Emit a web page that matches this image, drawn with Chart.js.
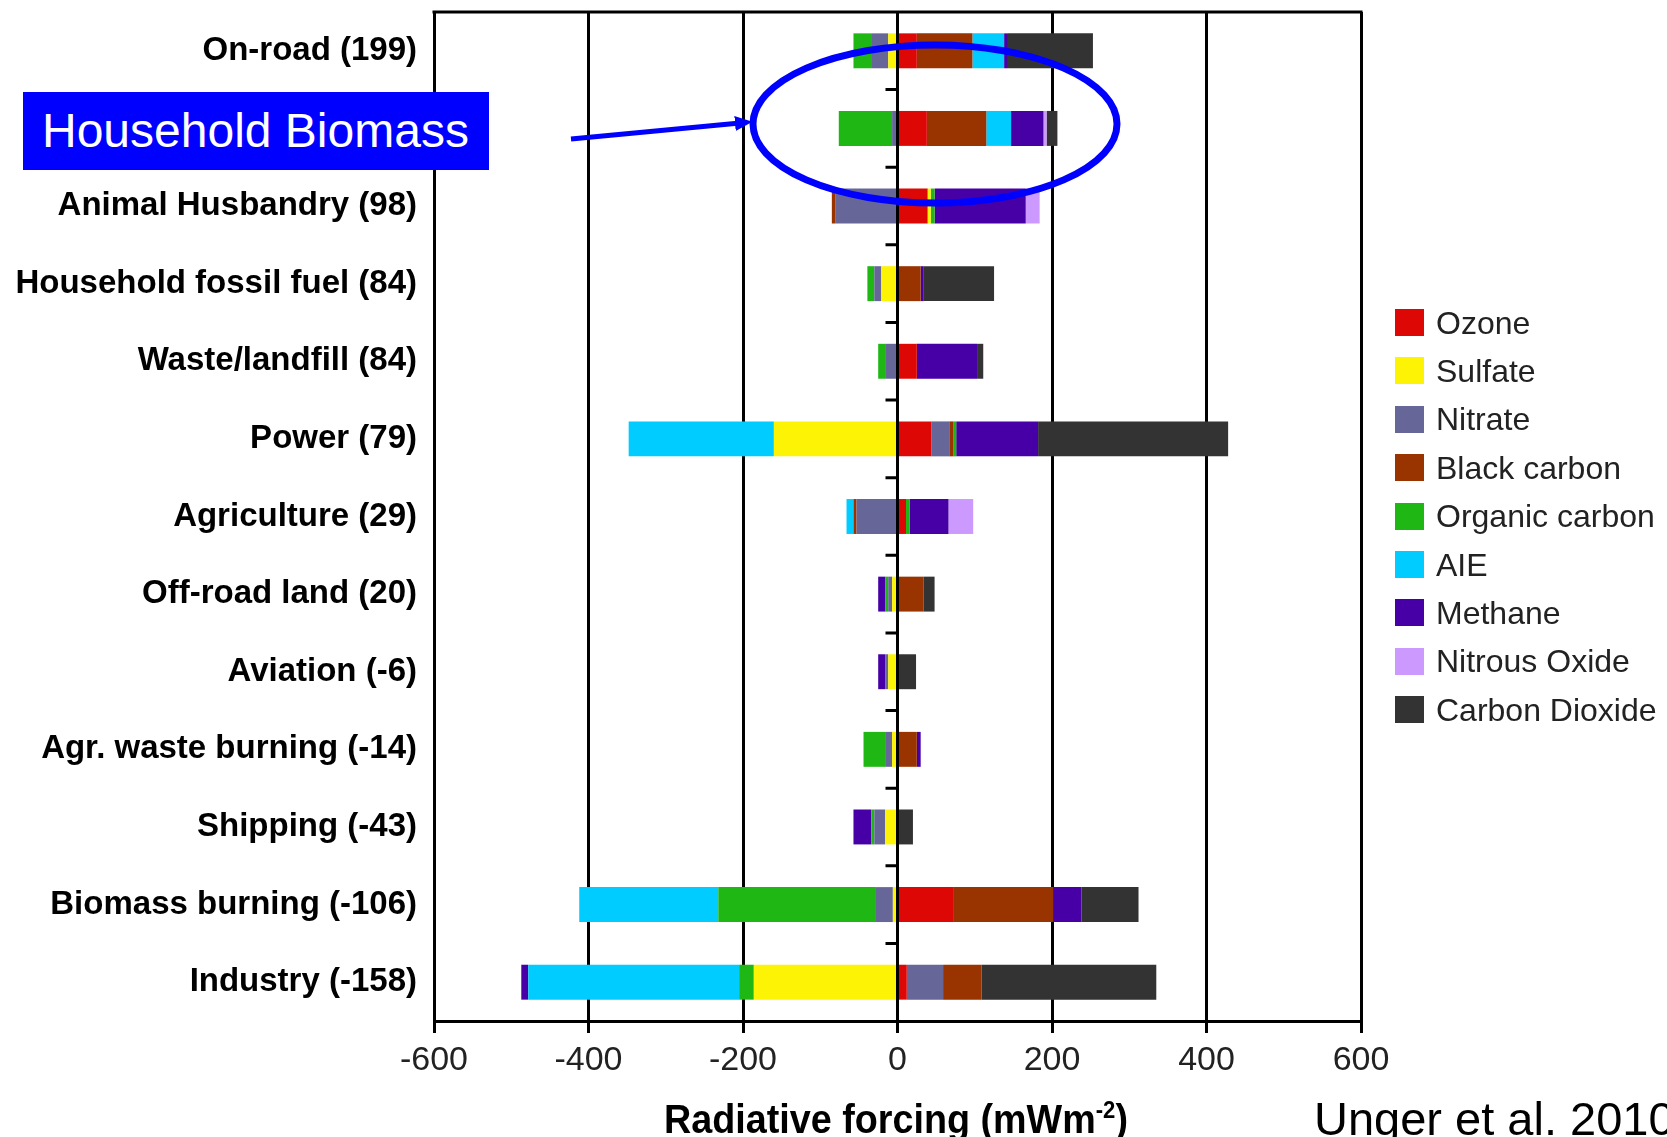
<!DOCTYPE html>
<html>
<head>
<meta charset="utf-8">
<title>Radiative forcing by sector</title>
<script src="https://cdn.jsdelivr.net/npm/chart.js@4.4.1/dist/chart.umd.min.js"></script>
<style>
  html, body { margin: 0; padding: 0; background: #fff; }
  #wrap { position: relative; width: 1667px; height: 1137px; overflow: hidden; font-family: "Liberation Sans", Arial, sans-serif; }
  #wrap canvas { position: absolute; left: 0; top: 0; }
  .txt { position: absolute; line-height: 1; white-space: nowrap; }
  #marks { position: absolute; left: 0; top: 0; pointer-events: none; }
  #biomass { position: absolute; left: 23px; top: 92px; width: 466px; height: 78px; background: #0000ff; }
  #biomass .txt { left: 19px; top: 15px; font-size: 48px; color: #fff; }
  #xtitle { left: 664px; top: 1099px; font-size: 41px; font-weight: bold; color: #000; transform: scaleX(0.92); transform-origin: left top; }
  #xtitle sup { font-size: 24px; vertical-align: 15px; line-height: 0; }
  #cite { left: 1314px; top: 1095px; font-size: 47px; color: #000; }
  #legend { position: absolute; left: 1395px; top: 309px; }
  .item { position: absolute; left: 0; display: flex; align-items: center; height: 27px; }
  .item i { display: block; width: 29px; height: 27px; }
  .item span { margin-left: 12px; font-size: 32px; line-height: 1; color: #222; white-space: nowrap; }
</style>
</head>
<body>
<div id="wrap">
  <canvas id="forcingChart" width="1667" height="1137"></canvas>
  <svg id="marks" width="1667" height="1137">
    <defs>
      <marker id="head" markerWidth="3.5" markerHeight="3" refX="1" refY="1.5" orient="auto" markerUnits="strokeWidth">
        <path d="M0,0 L3.5,1.5 L0,3 z" fill="#0000ff"></path>
      </marker>
    </defs>
    <line x1="571" y1="139" x2="740" y2="123" stroke="#0000ff" stroke-width="5" marker-end="url(#head)"></line>
    <ellipse cx="935" cy="124" rx="182" ry="79" fill="none" stroke="#0000ff" stroke-width="7"></ellipse>
  </svg>
  <div id="biomass"><div class="txt">Household Biomass</div></div>
  <div id="legend"></div>
  <div id="xtitle" class="txt">Radiative forcing (mWm<sup>-2</sup>)</div>
  <div id="cite" class="txt">Unger et al. 2010</div>
</div>
<script>
// sectors, top to bottom (net forcing in brackets)
const categories = [
  "On-road (199)", "Household Biomass", "Animal Husbandry (98)", "Household fossil fuel (84)",
  "Waste/landfill (84)", "Power (79)", "Agriculture (29)", "Off-road land (20)",
  "Aviation (-6)", "Agr. waste burning (-14)", "Shipping (-43)", "Biomass burning (-106)", "Industry (-158)"
];

// mWm-2 per species, same order as categories
const ozone         = [25, 38, 39, 0, 25, 44, 11, 0, 0, 0, 0, 73, 12];
const sulfate       = [-12, 0, 4, -21, 0, -160, 0, -7, -12, -7, -16, -6, -186];
const nitrate       = [-21, -7, -80, -9, -16, 23, -53, -5, -4, -9, -14, -23, 47];
const blackCarbon   = [72, 77, -5, 30, 0, 5, -4, 34, 0, 25, 0, 129, 50];
const organicCarbon = [-24, -69, 5, -9, -9, 4, 5, -4, 0, -28, -4, -203, -19];
const aie           = [41, 32, 0, 0, 0, -188, -9, 0, 0, 0, 0, -180, -273];
const methane       = [5, 42, 118, 4, 78, 106, 50, -9, -9, 5, -23, 36, -9];
const nitrousOxide  = [0, 4, 18, 0, 0, 0, 32, 0, 0, 0, 0, 0, 0];
const carbonDioxide = [110, 14, 0, 91, 8, 246, 0, 14, 24, 0, 20, 74, 226];

const seriesNames = ["Ozone", "Sulfate", "Nitrate", "Black carbon", "Organic carbon", "AIE", "Methane", "Nitrous Oxide", "Carbon Dioxide"];
const seriesValues = [ozone, sulfate, nitrate, blackCarbon, organicCarbon, aie, methane, nitrousOxide, carbonDioxide];
const seriesColors = ["#dd0806", "#fcf305", "#666699", "#993300", "#1fb714", "#00ccff", "#4600a5", "#cc99ff", "#333333"];

const xTicks = [-600, -400, -200, 0, 200, 400, 600];

Chart.defaults.font.family = "'Liberation Sans', Arial, sans-serif";

// legend built from the series lists
const legend = document.getElementById("legend");
seriesNames.forEach((name, i) => {
  const row = document.createElement("div");
  row.className = "item";
  row.style.top = (i * 48.4) + "px";
  row.innerHTML = '<i style="background:' + seriesColors[i] + '"></i><span>' + name + "</span>";
  legend.appendChild(row);
});

// frame top edge, zero line and the little ticks on it
const framePlugin = {
  id: "frame",
  afterDatasetsDraw(chart) {
    const { ctx, chartArea: a, scales: { x, y } } = chart;
    const x0 = x.getPixelForValue(0);
    ctx.save();
    ctx.strokeStyle = "#000";
    ctx.lineWidth = 3;
    ctx.beginPath();
    ctx.moveTo(x0, a.top);
    ctx.lineTo(x0, a.bottom);
    for (let i = 1; i < categories.length; i++) {
      const yy = (y.getPixelForValue(i - 1) + y.getPixelForValue(i)) / 2;
      ctx.moveTo(x0 - 12, yy);
      ctx.lineTo(x0, yy);
    }
    ctx.moveTo(a.left - 1.5, a.top);
    ctx.lineTo(a.right + 1.5, a.top);
    ctx.stroke();
    ctx.restore();
  },
};

new Chart(document.getElementById("forcingChart"), {
  type: "bar",
  data: {
    labels: categories,
    datasets: seriesNames.map((name, i) => ({
      label: name,
      data: seriesValues[i],
      backgroundColor: seriesColors[i],
      borderWidth: 0,
      barPercentage: 0.45,
      categoryPercentage: 1,
    })),
  },
  options: {
    indexAxis: "y",
    responsive: false,
    animation: false,
    layout: { padding: { top: 12, right: 306, left: 0, bottom: 0 } },
    plugins: {
      legend: { display: false },
      tooltip: { enabled: false },
    },
    scales: {
      x: {
        stacked: true,
        min: -600,
        max: 600,
        afterBuildTicks: (scale) => {
          scale.ticks = xTicks.map((v) => ({ value: v }));
        },
        afterFit: (scale) => {
          scale.height = 116;
        },
        grid: { color: "#000", lineWidth: 3, tickLength: 12, tickColor: "#000", tickWidth: 3 },
        border: { display: true, color: "#000", width: 3 },
        ticks: { color: "#222", font: { size: 34 }, padding: 7, maxRotation: 0 },
      },
      y: {
        stacked: true,
        afterFit: (scale) => {
          scale.width = 434;
          scale.paddingTop = 0;
          scale.paddingBottom = 0;
        },
        grid: { display: false, drawTicks: false },
        border: { display: false },
        ticks: {
          color: "#000",
          padding: 17,
          font: { size: 33, weight: "bold" },
          // the blue box stands in for this row's label
          callback: (value, index) => (index === 1 ? "" : categories[index]),
        },
      },
    },
  },
  plugins: [framePlugin],
});
</script>
</body>
</html>
